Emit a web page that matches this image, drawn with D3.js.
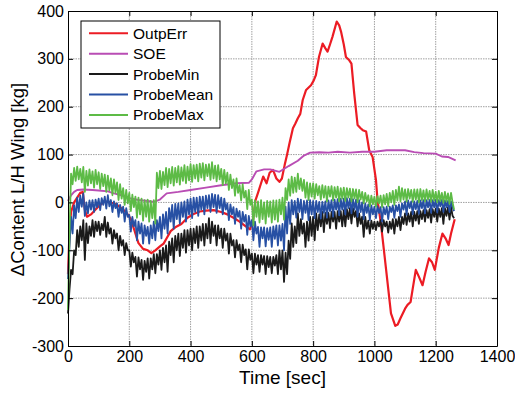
<!DOCTYPE html>
<html>
<head>
  <meta charset="utf-8">
  <title>Content L/H Wing</title>
  <style>
    body { margin: 0; background: #fff; }
    svg { display: block; }
    svg text, .axis { font-family: "Liberation Sans", Arial, sans-serif; }
    .axis path, .axis line { stroke: #000; }
    .axis text { font-size: 16px; fill: #000; }
    .grid line { stroke: #a0a0a0; stroke-dasharray: 1.5,1; }
    .series { fill: none; stroke-linejoin: round; }
  </style>
  <script src="https://d3js.org/d3.v7.min.js"></script>
</head>
<body>
<svg width="515" height="396"></svg>
<script>
// ---- data ----
var xTicks = [0, 200, 400, 600, 800, 1000, 1200, 1400];
var yTicks = [-300, -200, -100, 0, 100, 200, 300, 400];
var names = ["OutpErr", "SOE", "ProbeMin", "ProbeMean", "ProbeMax"];

var tRed = [0, 5, 10, 20, 30, 40, 48, 55, 62, 75, 90, 105, 120, 140, 160, 180, 195, 205, 215, 230,
  245, 260, 272, 285, 300, 312, 322, 335, 350, 370, 390, 410, 430, 450, 475, 500, 520, 540, 560, 580,
  594, 603, 612, 620, 630, 637, 648, 658, 669, 680, 690, 698, 707, 715, 723, 734, 742, 750, 758, 766,
  777, 793, 802, 809, 819, 831, 840, 847, 855, 863, 877, 885, 891, 900, 907, 918, 925, 934, 945, 955,
  962, 973, 983, 994, 1005, 1010, 1021, 1037, 1054, 1068, 1076, 1085, 1100, 1108, 1118, 1125, 1135, 1145, 1157, 1167,
  1178, 1188, 1197, 1210, 1222, 1232, 1242, 1250, 1262];
var outpErr = [-150, -60, -20, 0, 10, 20, 22, -15, -30, -25, -15, -5, 2, 0, -5, -15, -25, -35, -55, -85,
  -97, -100, -106, -100, -92, -86, -75, -60, -52, -45, -32, -24, -19, -17, -16, -20, -25, -32, -40, -50,
  -56, -40, 5, 20, 40, 54, 40, 62, 68, 50, 43, 50, 78, 100, 124, 155, 165, 176, 185, 214,
  235, 245, 255, 266, 304, 332, 322, 315, 330, 346, 378, 370, 357, 330, 304, 297, 290, 228, 162, 155,
  151, 148, 109, 95, 47, 5, -43, -134, -232, -258, -255, -242, -222, -214, -208, -180, -141, -155, -173, -145,
  -117, -125, -141, -95, -65, -75, -89, -65, -35];

var tSoe = [0, 10, 20, 30, 50, 80, 100, 130, 150, 180, 200, 230, 260, 280, 300, 322, 360, 400, 450, 500,
  550, 590, 600, 615, 640, 660, 690, 720, 750, 770, 790, 820, 850, 880, 920, 960, 1000, 1040, 1100, 1130,
  1160, 1200, 1220, 1240, 1265];
var soe = [3, 15, 22, 26, 27, 26, 25, 23, 19, 14, 9, 5, 3, 1, 6, 19, 22, 26, 31, 36,
  40, 41, 48, 65, 69, 69, 64, 76, 87, 98, 104, 105, 104, 106, 104, 106, 106, 109, 109, 105,
  103, 102, 96, 95, 88];

// probe series, sampled every 5 s (one row = 100 s)
var tProbe = d3.range(0, 1265, 5);
var probeMin = [
  -232, -180, -141, -150, -100, -110, -58, -93, -50, -79, -37, -120, -44, -85, -50, -70, -37, -72, -40, -60,
  -40, -68, -45, -58, -30, -72, -42, -65, -54, -86, -58, -75, -65, -100, -70, -90, -79, -110, -85, -100,
  -100, -134, -105, -125, -114, -155, -115, -140, -120, -162, -122, -145, -117, -159, -117, -140, -108, -148, -108, -130,
  -100, -141, -95, -125, -90, -145, -82, -110, -75, -125, -70, -100, -65, -112, -65, -95, -58, -105, -58, -90,
  -55, -100, -55, -85, -50, -95, -50, -80, -45, -90, -45, -75, -33, -85, -40, -70, -48, -90, -48, -75,
  -55, -95, -55, -80, -65, -107, -65, -90, -79, -115, -79, -100, -88, -125, -88, -110, -98, -140, -98, -120,
  -107, -148, -107, -130, -110, -145, -110, -130, -112, -150, -112, -135, -114, -148, -114, -132, -110, -150, -100, -140,
  -100, -166, -105, -150, -80, -118, -44, -93, -50, -85, -23, -70, -35, -65, -44, -93, -40, -80, -30, -70,
  -30, -79, -23, -58, -25, -50, -20, -62, -22, -45, -22, -54, -20, -40, -20, -55, -18, -40, -18, -50,
  -16, -50, -14, -35, -12, -44, -12, -30, -18, -50, -23, -45, -30, -72, -30, -55, -38, -65, -38, -55,
  -40, -58, -40, -50, -37, -61, -37, -50, -40, -63, -40, -55, -35, -65, -35, -50, -30, -58, -30, -45,
  -23, -47, -23, -40, -20, -50, -20, -38, -18, -45, -18, -35, -16, -40, -16, -32, -14, -42, -14, -30,
  -13, -40, -13, -30, -12, -45, -12, -28, -10, -36, -9, -28, -33];
var probeMean = [
  -160, -90, -30, -65, -6, -33, 10, -20, 14, -9, 19, -28, 0, -23, 4, -15, 5, -20, 6, -10,
  8, -16, 9, -5, 12, -13, 15, -8, 5, -20, 2, -12, -2, -30, -5, -22, -9, -40, -12, -30,
  -26, -61, -30, -50, -37, -79, -40, -65, -44, -86, -48, -70, -51, -86, -48, -75, -40, -79, -37, -60,
  -30, -75, -25, -55, -20, -65, -12, -40, -5, -55, -3, -35, -2, -44, 0, -30, 2, -40, 6, -25,
  8, -33, 10, -20, 10, -28, 12, -15, 12, -25, 14, -12, 15, -20, 18, -10, 16, -22, 15, -12,
  10, -25, 8, -15, -2, -37, -4, -25, -10, -45, -13, -30, -18, -55, -20, -40, -26, -68, -28, -50,
  -37, -79, -40, -65, -51, -93, -52, -75, -52, -92, -54, -78, -52, -93, -50, -76, -48, -90, -48, -80,
  -45, -100, -9, -65, 0, -45, 5, -25, 3, -32, 8, -20, 6, -35, 3, -22, 4, -37, 5, -25,
  3, -33, 3, -20, 1, -34, 1, -22, 2, -32, 4, -18, 5, -30, 6, -15, 7, -27, 8, -15,
  8, -25, 9, -12, 8, -23, 7, -15, 6, -30, 5, -20, 0, -35, -2, -22, -4, -37, -6, -25,
  -9, -33, -8, -22, -10, -40, -10, -25, -9, -35, -9, -20, -6, -32, -6, -18, -4, -30, -2, -15,
  2, -26, 4, -12, 2, -25, 2, -14, 3, -24, 4, -12, 5, -23, 5, -10, 5, -22, 5, -10,
  5, -21, 5, -8, 5, -20, 4, -10, 3, -20, 2, -10, -18];
var probeMax = [
  -225, -60, 60, 38, 72, 45, 75, 48, 70, 42, 74, 22, 66, 35, 69, 40, 65, 31, 68, 38,
  63, 28, 60, 34, 58, 22, 56, 25, 50, 15, 48, 20, 42, 5, 38, 8, 30, -5, 26, -2,
  20, -18, 16, -10, 12, -32, 10, -25, 8, -38, 5, -30, 6, -40, 3, -33, 5, -44, 62, 30,
  66, 28, 64, 36, 72, 32, 70, 40, 74, 35, 72, 42, 76, 37, 73, 45, 78, 40, 75, 46,
  80, 43, 78, 50, 79, 44, 81, 52, 82, 46, 79, 55, 80, 47, 84, 50, 77, 44, 78, 48,
  70, 36, 68, 40, 62, 26, 58, 30, 48, 14, 50, 20, 36, 4, 38, 10, 24, -14, 26, -5,
  6, -48, 4, -30, 2, -42, 5, -35, 0, -44, 3, -30, 2, -42, 4, -36, 4, -40, 6, -25,
  10, -36, 30, 5, 48, 14, 54, 20, 52, 22, 60, 28, 50, 24, 47, 10, 42, 5, 40, 12,
  40, 8, 38, 15, 34, 6, 36, 10, 34, 2, 33, 12, 34, 4, 32, 10, 33, 2, 30, 8,
  31, 3, 30, 10, 29, 2, 28, 8, 27, 0, 26, 6, 22, -2, 20, 2, 15, -8, 14, -4,
  12, -9, 13, -2, 14, -10, 15, -4, 18, -8, 20, 0, 24, -5, 26, 4, 33, 2, 30, 6,
  27, 2, 28, 8, 26, 1, 27, 6, 27, 0, 28, 5, 25, 2, 27, 6, 24, 1, 26, 4,
  22, 0, 24, 3, 20, -1, 22, 2, 19, -3, 20, 0, -15];

var svg = d3.select("svg"),
    margin = {top: 11, right: 18, bottom: 50, left: 68},
    width = +svg.attr("width") - margin.left - margin.right,
    height = +svg.attr("height") - margin.top - margin.bottom;

var x = d3.scaleLinear().domain([0, 1400]).range([0, width]),
    y = d3.scaleLinear().domain([-300, 400]).range([height, 0]);

var colors = ["#ec1c24", "#b94db4", "#1a1a1a", "#2750a4", "#5dbb46"];
var widths = [2.2, 1.9, 1.8, 1.8, 1.8];
var fmt = function(d) { return String(d); };

var g = svg.append("g")
    .attr("transform", "translate(" + margin.left + "," + margin.top + ")");

// grid
g.append("g").attr("class", "grid")
  .selectAll("line").data(xTicks.slice(1, -1)).enter().append("line")
    .attr("x1", function(d) { return x(d); }).attr("x2", function(d) { return x(d); })
    .attr("y1", 0).attr("y2", height);
g.append("g").attr("class", "grid")
  .selectAll("line").data(yTicks.slice(1, -1)).enter().append("line")
    .attr("y1", function(d) { return y(d); }).attr("y2", function(d) { return y(d); })
    .attr("x1", 0).attr("x2", width);

// series, drawn in plot order
var series = [
  {t: tRed, v: outpErr},
  {t: tSoe, v: soe},
  {t: tProbe, v: probeMin},
  {t: tProbe, v: probeMean},
  {t: tProbe, v: probeMax}
];
var line = d3.line()
    .x(function(d) { return x(d[0]); })
    .y(function(d) { return y(d[1]); });

g.selectAll(".series")
  .data(series)
  .enter().append("path")
    .attr("class", "series")
    .attr("stroke", function(d, i) { return colors[i]; })
    .attr("stroke-width", function(d, i) { return widths[i]; })
    .attr("d", function(d) { return line(d.t.map(function(t, j) { return [t, d.v[j]]; })); });

// axes, ticks inside on all four sides
g.append("g")
    .attr("class", "axis axis-x")
    .attr("transform", "translate(0," + height + ")")
    .call(d3.axisBottom(x).tickValues(xTicks).tickFormat(fmt).tickSizeInner(-5).tickSizeOuter(0).tickPadding(5));
g.append("g")
    .attr("class", "axis axis-y")
    .call(d3.axisLeft(y).tickValues(yTicks).tickFormat(fmt).tickSizeInner(-5).tickSizeOuter(0).tickPadding(4));
g.append("g")
    .attr("class", "axis")
    .call(d3.axisTop(x).tickValues(xTicks).tickSizeInner(-5).tickSizeOuter(0).tickFormat(""));
g.append("g")
    .attr("class", "axis")
    .attr("transform", "translate(" + width + ",0)")
    .call(d3.axisRight(y).tickValues(yTicks).tickSizeInner(-5).tickSizeOuter(0).tickFormat(""));

// axis labels
svg.append("text")
    .attr("x", margin.left + width / 2)
    .attr("y", 384)
    .attr("text-anchor", "middle")
    .style("font-size", "19px")
    .text("Time [sec]");
svg.append("text")
    .attr("transform", "translate(23.5," + (margin.top + height / 2 + 1) + ") rotate(-90)")
    .attr("text-anchor", "middle")
    .style("font-size", "18.5px")
    .text("\u0394Content L/H Wing [kg]");

// legend
var legend = svg.append("g").attr("transform", "translate(81,21)");
legend.append("rect")
    .attr("width", 139).attr("height", 107)
    .attr("fill", "#fff").attr("stroke", "#000").attr("stroke-width", 1);
var item = legend.selectAll(".item")
  .data(names)
  .enter().append("g")
    .attr("class", "item")
    .attr("transform", function(d, i) { return "translate(0," + (12.3 + i * 20.4) + ")"; });
item.append("line")
    .attr("x1", 8).attr("x2", 47)
    .attr("stroke", function(d, i) { return colors[i]; })
    .attr("stroke-width", 2);
item.append("text")
    .attr("x", 52).attr("y", 5.5)
    .style("font-size", "15.5px")
    .text(function(d) { return d; });
</script>
</body>
</html>
